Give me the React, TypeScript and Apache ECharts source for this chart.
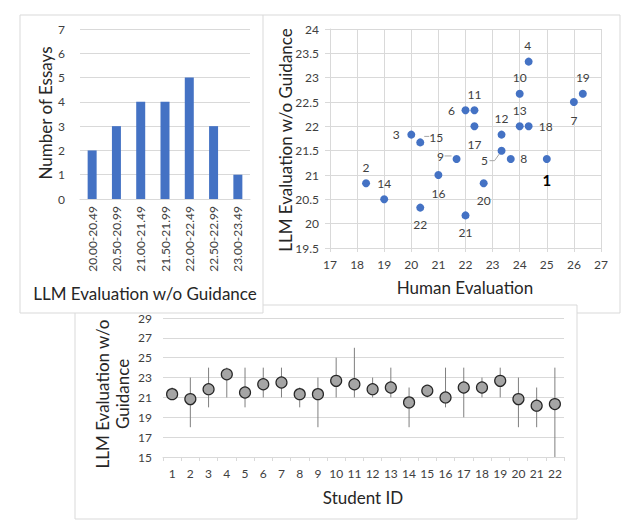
import React, { useEffect, useRef } from "react";
import * as echarts from "echarts";

// ---------- data ----------
const histCategories = [
  "20.00-20.49",
  "20.50-20.99",
  "21.00-21.49",
  "21.50-21.99",
  "22.00-22.49",
  "22.50-22.99",
  "23.00-23.49",
];
const histCounts = [2, 3, 4, 4, 5, 3, 1];

const studentIds = [
  "1", "2", "3", "4", "5", "6", "7", "8", "9", "10", "11",
  "12", "13", "14", "15", "16", "17", "18", "19", "20", "21", "22",
];
const humanScores = [
  25, 18.33, 20, 24.33, 23.33, 22, 26, 23.67, 21.67, 24, 22.33,
  23.33, 24, 19, 20.33, 21, 22.33, 24.33, 26.33, 22.67, 22, 20.33,
];
const llmScores = [
  21.33, 20.83, 21.83, 23.33, 21.5, 22.33, 22.5, 21.33, 21.33, 22.67, 22.33,
  21.83, 22, 20.5, 21.67, 21, 22, 22, 22.67, 20.83, 20.17, 20.33,
];
const llmMin = [21, 18, 20, 21, 20, 21, 21, 20, 18, 21, 21, 21, 21, 18, 21, 20, 19, 21, 21, 18, 18, 15];
const llmMax = [22, 23, 24, 24, 24, 24, 24, 22, 23, 25, 26, 23, 24, 22, 22, 24, 24, 23, 24, 23, 22, 24];

// ---------- styling (label placement per student, in px) ----------
const labelOffsets: Record<string, [number, number]> = {
  "1": [0, 21], "2": [0, -16], "3": [-15, 0], "4": [-1, -16], "5": [-17, 10],
  "6": [-14, 0], "7": [0, 18], "8": [13, 0], "9": [-16, -2], "10": [0, -16],
  "11": [0, -16], "12": [0, -16], "13": [0, -16], "14": [0, -16], "15": [16, -5],
  "16": [0, 18], "17": [0, 18], "18": [17, 0], "19": [0, -16], "20": [0, 17],
  "21": [0, 17], "22": [0, 17],
};
const leaderPaths: Record<string, [number, number][]> = {
  "5": [[-12, 10], [-7, 10], [-2, 3]],
  "9": [[-12, -3], [-5, -3]],
  "15": [[4, -6], [9, -6]],
};

const FONT = "Lato";
const GRID = "#D9D9D9";
const TICK = "#404040";
const TITLE = "#262626";
const BLUE = "#4472C4";
const TICK_SIZE = 12;

export default function App() {
  const ref = useRef<HTMLDivElement>(null);

  useEffect(() => {
    if (!ref.current) return;
    const chart = echarts.init(ref.current, undefined, { renderer: "svg" });

    const leaderIds = Object.keys(leaderPaths);
    const titleStyle = (text: string, size = 17) => ({
      text,
      fill: TITLE,
      font: `${size}px ${FONT}`,
      textAlign: "center",
      textVerticalAlign: "middle",
      lineHeight: 20,
    });
    const tickLabel = (margin: number, extra: any = {}) => ({
      fontSize: TICK_SIZE,
      color: TICK,
      margin,
      fontFamily: FONT,
      ...extra,
    });

    const option: any = {
      animation: false,
      backgroundColor: "#ffffff",
      textStyle: { fontFamily: FONT },
      grid: [
        { left: 80, top: 29, width: 170, height: 170 },
        { left: 330, top: 29, width: 271, height: 219 },
        { left: 163, top: 318, width: 401, height: 139 },
      ],
      xAxis: [
        {
          gridIndex: 0,
          type: "category",
          data: histCategories,
          axisLine: { lineStyle: { color: GRID } },
          axisTick: { show: false },
          axisLabel: tickLabel(7, { rotate: 90 }),
        },
        {
          gridIndex: 1,
          type: "value",
          min: 17,
          max: 27,
          interval: 1,
          splitLine: { show: true, lineStyle: { color: GRID } },
          axisLine: { show: true, lineStyle: { color: GRID } },
          axisTick: { show: true, length: 4, lineStyle: { color: GRID } },
          axisLabel: tickLabel(10),
        },
        {
          gridIndex: 2,
          type: "category",
          data: studentIds,
          axisLine: { lineStyle: { color: GRID } },
          axisTick: { show: true, length: 4, lineStyle: { color: GRID } },
          axisLabel: tickLabel(10),
        },
      ],
      yAxis: [
        {
          gridIndex: 0,
          type: "value",
          min: 0,
          max: 7,
          interval: 1,
          splitLine: { lineStyle: { color: GRID } },
          axisLine: { show: false },
          axisLabel: tickLabel(15),
        },
        {
          gridIndex: 1,
          type: "value",
          min: 19.5,
          max: 24,
          interval: 0.5,
          splitLine: { lineStyle: { color: GRID } },
          axisLine: { show: true, lineStyle: { color: GRID } },
          axisLabel: tickLabel(11),
        },
        {
          gridIndex: 2,
          type: "value",
          min: 15,
          max: 29,
          interval: 2,
          splitLine: { lineStyle: { color: GRID } },
          axisLine: { show: false },
          axisLabel: tickLabel(11),
        },
      ],
      graphic: [
        // panel frames
        {
          type: "polyline",
          shape: { points: [[263, 305], [577, 305], [577, 519], [75, 519], [75, 313]] },
          style: { stroke: GRID, fill: null, lineWidth: 1 },
          silent: true,
        },
        {
          type: "polyline",
          shape: { points: [[263, 15], [620, 15], [620, 313], [577, 313]] },
          style: { stroke: GRID, fill: null, lineWidth: 1 },
          silent: true,
        },
        {
          type: "rect",
          shape: { x: 20, y: 15, width: 243, height: 298 },
          style: { stroke: GRID, fill: null, lineWidth: 1 },
          silent: true,
        },
        // axis titles
        { type: "text", x: 45, y: 113, rotation: Math.PI / 2, style: titleStyle("Number of Essays") },
        { type: "text", x: 145, y: 293, style: titleStyle("LLM Evaluation w/o Guidance") },
        { type: "text", x: 285, y: 140, rotation: Math.PI / 2, style: titleStyle("LLM Evaluation w/o Guidance") },
        { type: "text", x: 465, y: 287, style: titleStyle("Human Evaluation") },
        { type: "text", x: 112, y: 394, rotation: Math.PI / 2, style: titleStyle("LLM Evaluation w/o\nGuidance") },
        { type: "text", x: 363, y: 497, style: titleStyle("Student ID") },
      ],
      series: [
        {
          type: "bar",
          xAxisIndex: 0,
          yAxisIndex: 0,
          data: histCounts,
          barWidth: 9,
          itemStyle: { color: BLUE },
        },
        {
          type: "custom",
          xAxisIndex: 1,
          yAxisIndex: 1,
          data: leaderIds.map((id) => [humanScores[+id - 1], llmScores[+id - 1], +id]),
          renderItem: (params: any, api: any) => {
            const p = api.coord([api.value(0), api.value(1)]);
            const path = leaderPaths[String(api.value(2))];
            return {
              type: "polyline",
              shape: { points: path.map(([dx, dy]) => [p[0] + dx, p[1] + dy]) },
              style: { stroke: "#A6A6A6", fill: null, lineWidth: 1 },
            };
          },
          z: 1,
        },
        {
          type: "scatter",
          xAxisIndex: 1,
          yAxisIndex: 1,
          symbolSize: 8,
          itemStyle: { color: BLUE, opacity: 1 },
          data: humanScores.map((h, i) => {
            const id = studentIds[i];
            const bold = id === "1";
            return {
              name: id,
              value: [h, llmScores[i]],
              label: {
                show: true,
                position: "inside",
                offset: labelOffsets[id],
                formatter: id,
                fontSize: bold ? 15 : 12,
                fontWeight: bold ? "bold" : "normal",
                color: bold ? "#000000" : "#404040",
                fontFamily: FONT,
              },
            };
          }),
          z: 3,
        },
        {
          type: "custom",
          xAxisIndex: 2,
          yAxisIndex: 2,
          data: llmMin.map((lo, i) => [i, lo, llmMax[i]]),
          encode: { x: 0, y: [1, 2] },
          renderItem: (params: any, api: any) => {
            const a = api.coord([api.value(0), api.value(1)]);
            const b = api.coord([api.value(0), api.value(2)]);
            return {
              type: "line",
              shape: { x1: a[0], y1: a[1], x2: b[0], y2: b[1] },
              style: { stroke: "#7F7F7F", lineWidth: 1 },
            };
          },
          z: 2,
        },
        {
          type: "scatter",
          xAxisIndex: 2,
          yAxisIndex: 2,
          symbolSize: 11,
          itemStyle: { color: "#A5A5A5", borderColor: "#262626", borderWidth: 1.2, opacity: 1 },
          data: llmScores.map((v, i) => [i, v]),
          z: 3,
        },
      ],
    };

    chart.setOption(option);
    return () => chart.dispose();
  }, []);

  return (
    <div
      ref={ref}
      style={{ position: "fixed", left: 0, top: 0, width: 640, height: 529, background: "#fff" }}
    />
  );
}
